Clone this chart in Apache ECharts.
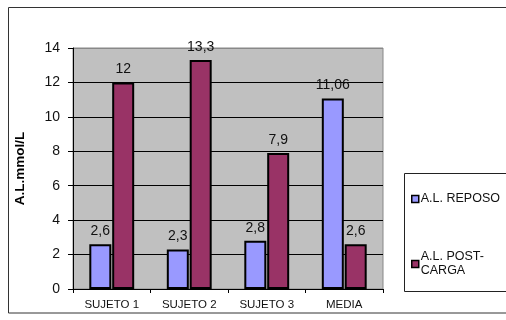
<!DOCTYPE html>
<html><head><meta charset="utf-8">
<script src="https://cdn.jsdelivr.net/npm/echarts@6/dist/echarts.min.js"></script>
<style>html,body{margin:0;padding:0;background:#fff}#c{width:506px;height:320px}</style>
</head><body><div id="c"></div>
<script>
const categories = ['SUJETO 1', 'SUJETO 2', 'SUJETO 3', 'MEDIA'];
const reposo = [2.6, 2.3, 2.8, 11.06];
const postCarga = [12, 13.3, 7.9, 2.6];
const seriesNames = ['A.L. REPOSO', 'A.L. POST-\nCARGA'];
const yTicks = [0, 2, 4, 6, 8, 10, 12, 14];

const chart = echarts.init(document.getElementById('c'), null, {renderer: 'canvas'});
const fmt = p => String(p.value).replace('.', ',');
const labelCfg = {show: true, position: 'top', distance: 6, formatter: fmt,
  fontFamily: 'Arial, Liberation Sans', fontSize: 14, color: '#111'};
chart.setOption({
  animation: false,
  graphic: [
    {type: 'rect', shape: {x: 8.5, y: 7.5, width: 520, height: 305.5}, style: {fill: 'none', stroke: '#333', lineWidth: 1}, z: -10},
    {type: 'rect', shape: {x: 404.5, y: 173.5, width: 120, height: 118}, style: {fill: '#fff', stroke: '#222', lineWidth: 1}, z: -5}
  ],
  grid: {left: 73, top: 48, right: 123, bottom: 31, show: true, backgroundColor: '#C0C0C0', borderColor: '#888', borderWidth: 1},
  legend: {
    orient: 'vertical', left: 406, top: 187, itemGap: 44,
    itemWidth: 7, itemHeight: 7, icon: 'rect',
    itemStyle: {borderColor: '#000', borderWidth: 1.5},
    textStyle: {fontFamily: 'Arial, Liberation Sans', fontSize: 12.5, color: '#111', lineHeight: 14, padding: [0,0,0,-3]},
    data: seriesNames
  },
  xAxis: {
    type: 'category', data: categories,
    axisLine: {lineStyle: {color: '#000', width: 1}},
    axisTick: {show: true, length: 4, lineStyle: {color: '#000'}},
    axisLabel: {fontFamily: 'Arial, Liberation Sans', fontSize: 11.5, color: '#111', margin: 10}
  },
  yAxis: {
    type: 'value', min: 0, max: 14, interval: 2,
    name: 'A.L.mmol/L', nameLocation: 'middle', nameGap: 46,
    nameTextStyle: {fontFamily: 'Arial, Liberation Sans', fontSize: 13.5, fontWeight: 'bold', color: '#000'},
    axisLine: {show: true, lineStyle: {color: '#000'}},
    axisTick: {show: true, length: 5, lineStyle: {color: '#000'}},
    axisLabel: {fontFamily: 'Arial, Liberation Sans', fontSize: 14, color: '#111', margin: 13,
      formatter: v => yTicks.includes(v) ? String(v) : ''},
    splitLine: {show: true, lineStyle: {color: ['#000','#000','#000','#000','#000','#000','#000','#888'], width: 1}}
  },
  series: [
    {name: seriesNames[0], type: 'bar', data: reposo, barWidth: 22, barGap: '4%',
     itemStyle: {color: '#9999FF', borderColor: '#000', borderWidth: 2}, label: labelCfg},
    {name: seriesNames[1], type: 'bar', data: postCarga, barWidth: 22,
     itemStyle: {color: '#993366', borderColor: '#000', borderWidth: 2}, label: labelCfg}
  ]
});
</script></body></html>
